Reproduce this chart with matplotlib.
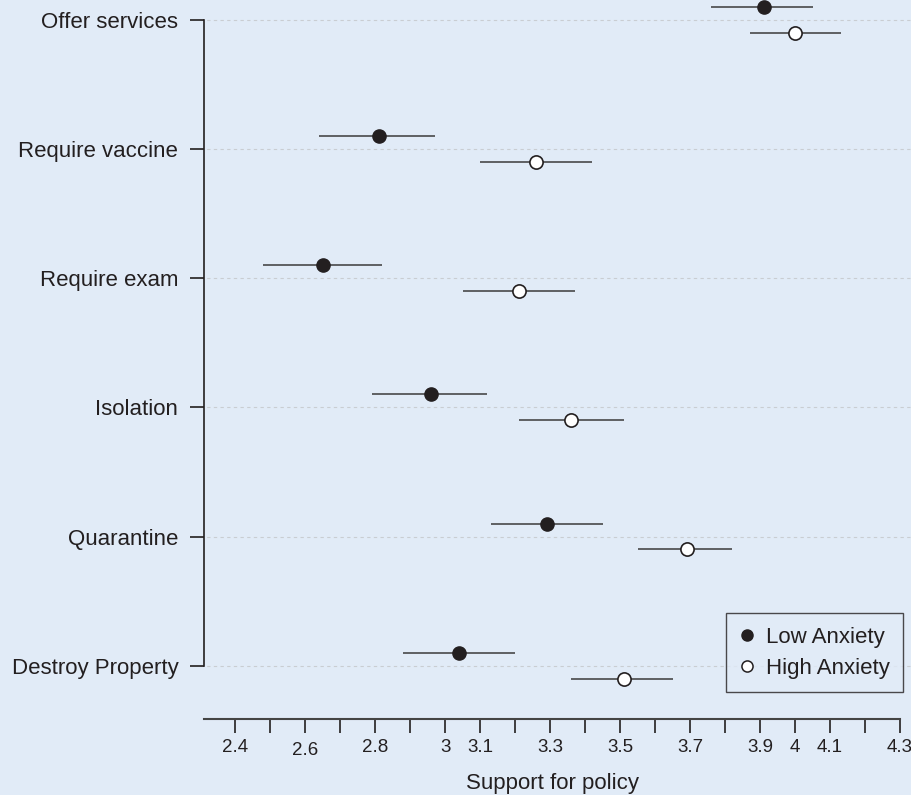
import matplotlib.pyplot as plt
import numpy as np
from matplotlib.lines import Line2D

plt.rcParams["font.family"] = ["Liberation Sans", "DejaVu Sans"]

BG = "#e1ebf7"
INK = "#231f20"

categories = [
    "Offer services",
    "Require vaccine",
    "Require exam",
    "Isolation",
    "Quarantine",
    "Destroy Property",
]

# point estimates and interval ends
low_mean = [3.91, 2.81, 2.65, 2.96, 3.29, 3.04]
low_lo = [3.76, 2.64, 2.48, 2.79, 3.13, 2.88]
low_hi = [4.05, 2.97, 2.82, 3.12, 3.45, 3.20]

high_mean = [4.00, 3.26, 3.21, 3.36, 3.69, 3.51]
high_lo = [3.87, 3.10, 3.05, 3.21, 3.55, 3.36]
high_hi = [4.13, 3.42, 3.37, 3.51, 3.82, 3.65]

tick_values = [round(2.4 + 0.1 * i, 1) for i in range(20)]
labelled_ticks = ["2.4", "2.6", "2.8", "3", "3.1", "3.3", "3.5", "3.7", "3.9", "4", "4.1", "4.3"]


def main() -> None:
    fig = plt.figure(figsize=(9.12, 7.95), dpi=100, facecolor=BG)
    ax = fig.add_axes([204 / 912, 76 / 795, 696 / 912, 719 / 795])
    ax.set_facecolor(BG)

    n = len(categories)
    ypos = np.arange(n)[::-1]  # top category at highest y

    # dashed guide lines at each category
    ax.hlines(ypos, 2.3, 4.335, colors="#c9cdd2", linestyles=(0, (3, 3)),
              linewidth=0.8, clip_on=False, zorder=0)

    low_m = np.array(low_mean)
    high_m = np.array(high_mean)
    ax.errorbar(low_m, ypos + 0.1,
                xerr=[low_m - np.array(low_lo), np.array(low_hi) - low_m],
                fmt="o", color=INK, ecolor="#3a3a3a", elinewidth=1.1,
                markersize=9.5, markerfacecolor=INK, markeredgecolor=INK,
                capsize=0, zorder=3)
    ax.errorbar(high_m, ypos - 0.1,
                xerr=[high_m - np.array(high_lo), np.array(high_hi) - high_m],
                fmt="o", color=INK, ecolor="#3a3a3a", elinewidth=1.1,
                markersize=9.5, markerfacecolor="white", markeredgecolor=INK,
                markeredgewidth=1.2, capsize=0, zorder=3)

    ax.set_xlim(2.311, 4.3)
    ax.set_ylim(-0.413, 5.155)

    ax.set_yticks(ypos)
    ax.set_yticklabels(categories, fontsize=16, color=INK)
    ax.tick_params(axis="y", length=10, width=1.2, color=INK, pad=8.5)

    ax.set_xticks(tick_values)
    shown = []
    for v in tick_values:
        s = f"{v:g}"
        shown.append(s if s in labelled_ticks else "")
    ax.set_xticklabels(shown, fontsize=13.5, color=INK)
    ax.tick_params(axis="x", length=10, width=1.2, color=INK, pad=4.5)
    for lab in ax.get_xticklabels():
        if lab.get_text() == "2.6":
            lab.set_y(-0.004)

    ax.set_xlabel("Support for policy", fontsize=16, color=INK, labelpad=10)

    for side in ("top", "right"):
        ax.spines[side].set_visible(False)
    ax.spines["left"].set_bounds(0, n - 1)
    ax.spines["left"].set_linewidth(1.2)
    ax.spines["left"].set_color(INK)
    ax.spines["bottom"].set_linewidth(1.5)
    ax.spines["bottom"].set_color("#444444")

    handles = [
        Line2D([], [], marker="o", linestyle="none", markersize=8,
               markerfacecolor=INK, markeredgecolor=INK),
        Line2D([], [], marker="o", linestyle="none", markersize=8,
               markerfacecolor="white", markeredgecolor=INK,
               markeredgewidth=1.1),
    ]
    leg = ax.legend(handles, ["Low Anxiety", "High Anxiety"],
                    loc="lower right", bbox_to_anchor=(1.004, 0.0376),
                    borderaxespad=0, fontsize=16, frameon=True, fancybox=False,
                    handlelength=0.7, handletextpad=0.5,
                    borderpad=0.6, labelspacing=0.45)
    leg.get_frame().set_edgecolor(INK)
    leg.get_frame().set_facecolor(BG)
    leg.get_frame().set_linewidth(1.0)
    for t in leg.get_texts():
        t.set_color(INK)

    fig.savefig("out.png", dpi=100, facecolor=BG)


if __name__ == "__main__":
    main()
